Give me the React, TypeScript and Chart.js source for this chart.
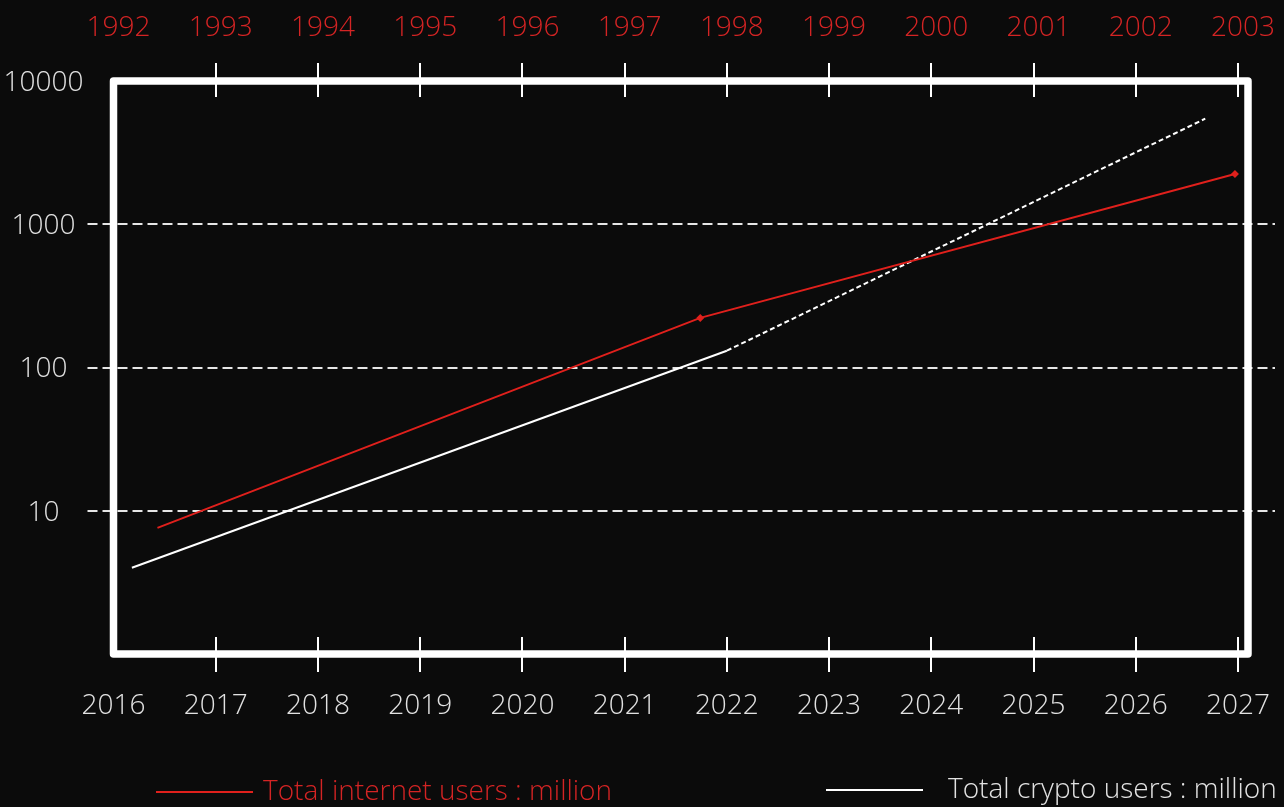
import React, { useEffect, useRef } from "react";
import { Chart, registerables } from "chart.js";

Chart.register(...registerables);

// ---- data ----
const bottomYears = [2016, 2017, 2018, 2019, 2020, 2021, 2022, 2023, 2024, 2025, 2026, 2027];
const topYears = [1992, 1993, 1994, 1995, 1996, 1997, 1998, 1999, 2000, 2001, 2002, 2003];
const yTickValues = [10, 100, 1000, 10000];

const internetX = [2016.43, 2021.74, 2026.97];
const internetY = [7.6, 222, 2240];
const cryptoX = [2016.18, 2022.0, 2026.68];
const cryptoY = [4.0, 131, 5460];

const seriesLabels = ["Total internet users : million", "Total crypto users : million"];

// ---- styles ----
const BG = "#0b0b0b";
const RED = "#e0201c";
const RED_TEXT = "#d42424";
const WHITE = "#ffffff";
const LABEL = "#e2e2e2";
const FONT = "'Open Sans', 'DejaVu Sans', sans-serif";

const framePlugin = {
  id: "frame",
  beforeDatasetsDraw(chart: any) {
    const { ctx, chartArea, scales } = chart;
    const { left, right } = chartArea;
    const y = scales.y;
    ctx.save();
    ctx.strokeStyle = "#e6e6e6";
    ctx.lineWidth = 2;
    ctx.setLineDash([10, 5]);
    y.ticks.forEach((t: any) => {
      if (t.value >= 10000) return;
      const py = Math.round(y.getPixelForValue(t.value));
      ctx.beginPath();
      ctx.moveTo(left - 26, py);
      ctx.lineTo(right + 27, py);
      ctx.stroke();
    });
    ctx.restore();
  },
  afterDatasetsDraw(chart: any) {
    const { ctx, chartArea, scales } = chart;
    const { left, right, top, bottom } = chartArea;
    const x = scales.x;
    ctx.save();
    // tick marks crossing the frame
    ctx.strokeStyle = WHITE;
    ctx.lineWidth = 2;
    x.ticks.forEach((t: any) => {
      if (t.value <= 2016) return;
      const px = Math.round(x.getPixelForValue(t.value));
      ctx.beginPath();
      ctx.moveTo(px, top - 18);
      ctx.lineTo(px, top + 16);
      ctx.moveTo(px, bottom - 17);
      ctx.lineTo(px, bottom + 18);
      ctx.stroke();
    });
    // frame
    ctx.lineWidth = 7.5;
    ctx.lineJoin = "round";
    ctx.strokeRect(left, top, right - left, bottom - top);
    ctx.restore();
  },
  afterDraw(chart: any) {
    const { ctx } = chart;
    const items = [
      { x0: 156, x1: 253, y: 792, tx: 263, color: RED, text: RED_TEXT },
      { x0: 826, x1: 923, y: 790, tx: 948, color: WHITE, text: LABEL },
    ];
    ctx.save();
    chart.data.datasets.forEach((ds: any, i: number) => {
      const it = items[i];
      ctx.strokeStyle = it.color;
      ctx.lineWidth = 2;
      ctx.beginPath();
      ctx.moveTo(it.x0, it.y);
      ctx.lineTo(it.x1, it.y);
      ctx.stroke();
      ctx.fillStyle = it.text;
      ctx.font = `300 28px ${FONT}`;
      ctx.textBaseline = "middle";
      ctx.textAlign = "left";
      ctx.fillText(ds.label, it.tx, it.y);
    });
    ctx.restore();
  },
};

export default function App() {
  const canvasRef = useRef<HTMLCanvasElement | null>(null);

  useEffect(() => {
    if (!canvasRef.current) return;
    const tickFont = { family: FONT, size: 28, weight: 300 as any };
    const chart = new Chart(canvasRef.current, {
      type: "line",
      data: {
        datasets: [
          {
            label: seriesLabels[0],
            data: internetX.map((x, i) => ({ x, y: internetY[i] })),
            borderColor: RED,
            backgroundColor: RED,
            borderWidth: 2,
            pointRadius: [0, 4, 4],
            pointStyle: "rectRot",
            pointBorderWidth: 0,
            tension: 0,
          },
          {
            label: seriesLabels[1],
            data: cryptoX.map((x, i) => ({ x, y: cryptoY[i] })),
            borderColor: WHITE,
            backgroundColor: WHITE,
            borderWidth: 2,
            pointRadius: 0,
            tension: 0,
            segment: {
              borderDash: (c: any) => (c.p0DataIndex >= 1 ? [5, 3] : undefined),
            },
          },
        ],
      },
      options: {
        animation: false,
        responsive: true,
        maintainAspectRatio: false,
        layout: { padding: { left: 0, right: 36, top: 0, bottom: 0 } },
        plugins: { legend: { display: false }, tooltip: { enabled: false } },
        scales: {
          x: {
            type: "linear",
            position: "bottom",
            min: 2016,
            max: 2027.098,
            afterBuildTicks: (s: any) => {
              s.ticks = bottomYears.map((v) => ({ value: v }));
            },
            afterFit: (s: any) => {
              s.height = 153;
              s.paddingLeft = 0;
              s.paddingRight = 0;
            },
            grid: { display: false, drawTicks: false },
            border: { display: false },
            ticks: {
              color: LABEL,
              font: tickFont,
              padding: 35.5,
              maxRotation: 0,
              autoSkip: false,
              callback: (v: any) => String(v),
            },
          },
          x2: {
            type: "linear",
            position: "top",
            min: 1992,
            max: 2003.098,
            afterBuildTicks: (s: any) => {
              s.ticks = topYears.map((v) => ({ value: v }));
            },
            afterFit: (s: any) => {
              s.height = 81;
              s.paddingLeft = 0;
              s.paddingRight = 0;
            },
            grid: { display: false, drawTicks: false },
            border: { display: false },
            ticks: {
              color: RED_TEXT,
              font: tickFont,
              padding: 36,
              labelOffset: 5,
              maxRotation: 0,
              autoSkip: false,
              callback: (v: any) => String(v),
            },
          },
          y: {
            type: "logarithmic",
            position: "left",
            min: 1,
            max: 10000,
            afterBuildTicks: (s: any) => {
              s.ticks = yTickValues.map((v) => ({ value: v }));
            },
            afterFit: (s: any) => {
              s.width = 113.5;
              s.paddingTop = 0;
              s.paddingBottom = 0;
            },
            grid: { display: false, drawTicks: false },
            border: { display: false },
            ticks: {
              color: LABEL,
              font: tickFont,
              padding: 30,
              labelOffset: 2,
              crossAlign: "center",
              autoSkip: false,
              callback: (v: any) => String(v),
            },
          },
        },
      } as any,
      plugins: [framePlugin],
    });
    return () => chart.destroy();
  }, []);

  return (
    <div
      style={{
        position: "fixed",
        left: 0,
        top: 0,
        width: 1284,
        height: 807,
        background: BG,
      }}
    >
      <canvas ref={canvasRef} />
    </div>
  );
}
